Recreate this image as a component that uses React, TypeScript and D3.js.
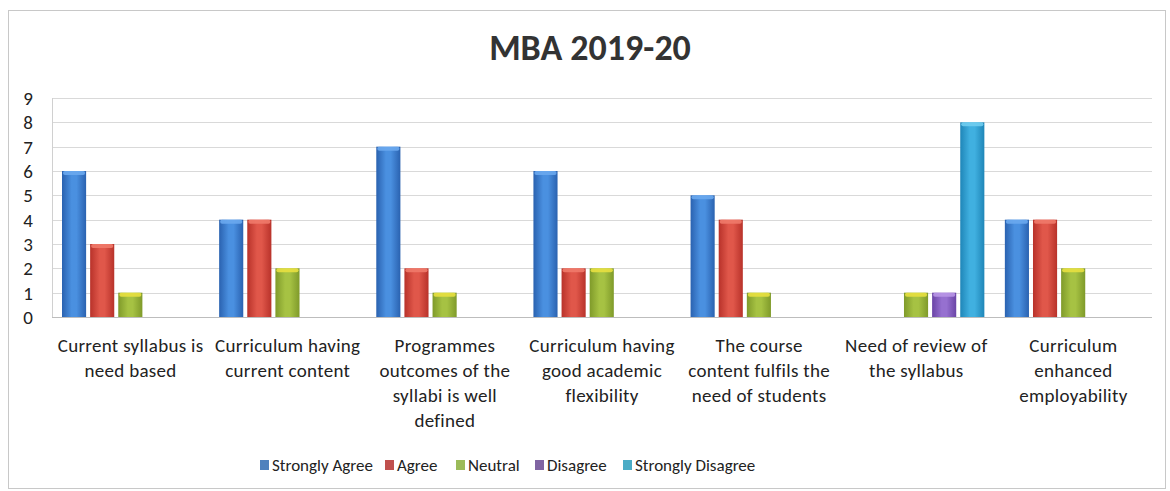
import React from 'react'
import * as d3 from 'd3'

const title = 'MBA 2019-20'

const categories = [
  ['Current syllabus is', 'need based'],
  ['Curriculum having', 'current content'],
  ['Programmes', 'outcomes of the', 'syllabi is well', 'defined'],
  ['Curriculum having', 'good academic', 'flexibility'],
  ['The course', 'content fulfils the', 'need of students'],
  ['Need of review of', 'the syllabus'],
  ['Curriculum', 'enhanced', 'employability'],
]

const seriesNames = ['Strongly Agree', 'Agree', 'Neutral', 'Disagree', 'Strongly Disagree']

const stronglyAgree = [6, 4, 7, 6, 5, 0, 4]
const agree = [3, 4, 2, 2, 4, 0, 4]
const neutral = [1, 2, 1, 2, 1, 1, 2]
const disagree = [0, 0, 0, 0, 0, 1, 0]
const stronglyDisagree = [0, 0, 0, 0, 0, 8, 0]

const yTicks = [0, 1, 2, 3, 4, 5, 6, 7, 8, 9]

const seriesValues = [stronglyAgree, agree, neutral, disagree, stronglyDisagree]

// bar colours: [edge, middle, cap]
const barColors = [
  ['#2a62b0', '#4a90e0', '#6aa8ee'],
  ['#b8322a', '#e0574a', '#f07a6a'],
  ['#7f9a2a', '#a6c243', '#e8e040'],
  ['#6a44a6', '#9670d0', '#b896e6'],
  ['#1f86b8', '#40b0e0', '#70cdf0'],
]
const legendColors = ['#4f81bd', '#c0504d', '#9bbb59', '#8064a2', '#4bacc6']

const W = 1170
const H = 491
const font = 'Carlito, Lato, "Open Sans", sans-serif'

export default function App() {
  const plotL = 52
  const plotR = 1152
  const plotT = 98
  const plotB = 317

  const x0 = d3.scaleBand<number>()
    .domain(d3.range(categories.length))
    .range([plotL, plotR])
    .paddingInner(0)
    .paddingOuter(0)
  const x1 = d3.scaleBand<number>()
    .domain(d3.range(seriesNames.length))
    .range([10, x0.bandwidth() - 10.5])
    .paddingInner(4 / 28)
  const y = d3.scaleLinear().domain([0, 9]).range([plotB, plotT])

  const legendX = [265, 390, 461, 540, 628]

  return (
    <svg width={W} height={H} style={{ position: 'absolute', left: 0, top: 0, background: '#fff' }} fontFamily={font}>
      <defs>
        {barColors.map((c, i) => (
          <linearGradient key={i} id={`g${i}`} x1="0" x2="1" y1="0" y2="0">
            <stop offset="0" stopColor={c[0]} />
            <stop offset="0.4" stopColor={c[1]} />
            <stop offset="0.6" stopColor={c[1]} />
            <stop offset="1" stopColor={c[0]} />
          </linearGradient>
        ))}
      </defs>
      <rect x={8.5} y={10.5} width={1157} height={478} fill="#fff" stroke="#c8c8c8" />
      <text x={590} y={60} textAnchor="middle" fontSize={36} fontWeight="bold" fill="#333">{title}</text>

      {yTicks.map(t => (
        <g key={t}>
          <line x1={plotL} x2={plotR} y1={Math.round(y(t)) + 0.5} y2={Math.round(y(t)) + 0.5} stroke={t === 0 ? '#bdbdbd' : '#d9d9d9'} />
          <text x={33} y={y(t) + 7} textAnchor="end" fontSize={19} fill="#222">{t}</text>
        </g>
      ))}
      <line x1={plotL + 0.5} x2={plotL + 0.5} y1={plotT} y2={plotB} stroke="#d0d0d0" />

      {categories.map((_, ci) => (
        <g key={ci} transform={`translate(${x0(ci)},0)`}>
          {seriesValues.map((vals, si) => {
            const v = vals[ci]
            if (!v) return null
            const bx = x1(si)!
            const bw = x1.bandwidth()
            const top = y(v)
            return (
              <g key={si}>
                <rect x={bx} y={top} width={bw} height={plotB - top} fill={`url(#g${si})`} />
                <rect x={bx + 1} y={top} width={bw - 2} height={4} rx={2} fill={barColors[si][2]} opacity={0.9} />
              </g>
            )
          })}
        </g>
      ))}

      {categories.map((lines, ci) => (
        <text key={ci} x={x0(ci)! + x0.bandwidth() / 2} y={352} textAnchor="middle" fontSize={19} letterSpacing={0.3} fill="#222">
          {lines.map((l, li) => (
            <tspan key={li} x={x0(ci)! + x0.bandwidth() / 2} dy={li === 0 ? 0 : 25}>{l}</tspan>
          ))}
        </text>
      ))}

      {seriesNames.map((s, i) => (
        <g key={s}>
          <rect x={legendX[i] - 5} y={460} width={9} height={10} fill={legendColors[i]} />
          <text x={legendX[i] + 7} y={471} fontSize={17} fill="#222">{s}</text>
        </g>
      ))}
    </svg>
  )
}
